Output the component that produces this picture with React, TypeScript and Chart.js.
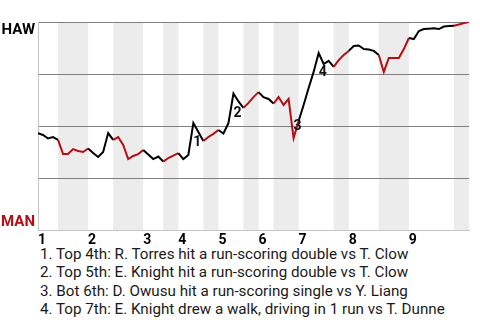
import React, { useEffect, useRef } from "react";
import { Chart, registerables } from "chart.js";

Chart.register(...registerables);

// HAW win probability (%) after each play
const winProb: number[] = [
  46.6, 45.7, 44.0, 44.7, 43.3, 36.5, 36.5, 38.9, 38.0, 37.5,
  39.2, 37.0, 35.1, 37.5, 46.6, 43.3, 44.7, 40.9, 34.1, 35.6,
  36.5, 38.5, 36.3, 34.1, 35.3, 32.9, 34.6, 35.8, 37.0, 34.1,
  36.1, 51.4, 47.1, 42.8, 44.7, 46.2, 48.1, 46.4, 51.4, 65.6,
  61.8, 58.7, 61.1, 63.9, 66.3, 63.9, 63.0, 60.8, 63.9, 60.1,
  63.0, 44.2, 52.4, 60.1, 68.3, 76.0, 85.1, 79.8, 81.3, 78.4,
  81.7, 84.1, 86.1, 88.5, 88.7, 87.0, 86.8, 86.1, 84.1, 76.0,
  82.7, 82.7, 82.7, 87.0, 92.3, 91.8, 95.7, 96.6, 96.8, 97.0,
  96.6, 97.8, 98.1, 98.2, 98.8, 99.5, 100,
];

// play index where each inning (top half) starts
const inningStarts: number[] = [0, 10, 21, 28, 36, 44, 52, 62, 74];
const inningLabels: string[] = ["1", "2", "3", "4", "5", "6", "7", "8", "9"];
// bottom half-innings: [start, end] play index
const bottomStarts: number[] = [4, 15, 25, 33, 41, 47, 59, 68, 83];
const bottomEnds: number[] = [10, 21, 28, 36, 44, 52, 62, 74, 86];

const noteIndices: number[] = [31, 39, 51, 56];
const noteMarks: string[] = ["1", "2", "3", "4"];
const noteTexts: string[] = [
  "1. Top 4th: R. Torres hit a run-scoring double vs T. Clow",
  "2. Top 5th: E. Knight hit a run-scoring double vs T. Clow",
  "3. Bot 6th: D. Owusu hit a run-scoring single vs Y. Liang",
  "4. Top 7th: E. Knight drew a walk, driving in 1 run vs T. Dunne",
];

const topTeam = "HAW";
const bottomTeam = "MAN";

const RED = "#b30d16";
const BLACK = "#000000";
const FONT = "Roboto, 'Noto Sans', sans-serif";

function isBottom(i: number): boolean {
  for (let k = 0; k < bottomStarts.length; k++) {
    if (i >= bottomStarts[k] && i < bottomEnds[k]) return true;
  }
  return false;
}

const bandsPlugin = {
  id: "bands",
  beforeDraw(chart: any) {
    const { ctx, chartArea, scales } = chart;
    const x = scales.x;
    ctx.save();
    ctx.fillStyle = "#ececec";
    for (let k = 0; k < bottomStarts.length; k++) {
      const x0 = x.getPixelForValue(bottomStarts[k]);
      const x1 = x.getPixelForValue(bottomEnds[k]);
      ctx.fillRect(x0, chartArea.top, x1 - x0, chartArea.bottom - chartArea.top);
    }
    ctx.restore();
  },
};

const labelsPlugin = {
  id: "teamLabels",
  afterDraw(chart: any) {
    const { ctx, chartArea, scales } = chart;
    const x = scales.x;
    const y = scales.y;
    ctx.save();
    ctx.font = `bold 15px ${FONT}`;
    ctx.textAlign = "right";
    ctx.textBaseline = "alphabetic";
    ctx.fillStyle = BLACK;
    ctx.fillText(topTeam, chartArea.left - 3, y.getPixelForValue(100) + 12);
    ctx.fillStyle = RED;
    ctx.fillText(bottomTeam, chartArea.left - 3, y.getPixelForValue(0) - 4.5);

    ctx.font = `bold 14px ${FONT}`;
    ctx.textAlign = "left";
    ctx.textBaseline = "middle";
    ctx.fillStyle = "#111";
    for (let k = 0; k < noteIndices.length; k++) {
      const i = noteIndices[k];
      const up = winProb[i] > winProb[i - 1];
      const px = x.getPixelForValue(i);
      const py = y.getPixelForValue(winProb[i]);
      ctx.fillText(noteMarks[k], px, py + (up ? 19.5 : -12));
    }
    ctx.restore();
  },
};

export default function App() {
  const ref = useRef<HTMLCanvasElement | null>(null);
  useEffect(() => {
    if (!ref.current) return;
    const chart = new Chart(ref.current, {
      type: "line",
      data: {
        labels: winProb.map((_, i) => i),
        datasets: [
          {
            data: winProb.map((v, i) => ({ x: i, y: v })),
            borderColor: BLACK,
            borderWidth: 2,
            pointRadius: 0,
            tension: 0,
            fill: false,
            segment: {
              borderColor: (c: any) => (isBottom(c.p0DataIndex) ? RED : BLACK),
            },
          },
        ],
      },
      options: {
        animation: false,
        responsive: true,
        maintainAspectRatio: false,
        layout: { padding: { top: 22, right: 11, left: 0, bottom: 0 } },
        plugins: { legend: { display: false }, tooltip: { enabled: false } },
        scales: {
          x: {
            type: "linear",
            min: 0,
            max: winProb.length - 1,
            grid: { display: false, drawTicks: false },
            border: { display: true, color: "#c4c4c4", width: 1 },
            afterBuildTicks: (s: any) => {
              s.ticks = inningStarts.map((v) => ({ value: v }));
            },
            afterFit: (s: any) => {
              s.height = 15;
            },
            ticks: {
              autoSkip: false,
              maxRotation: 0,
              align: "start",
              padding: 2,
              color: "#000",
              font: { family: FONT, size: 14, weight: "bold" },
              callback: (v: any) => {
                const idx = inningStarts.indexOf(Number(v));
                return idx >= 0 ? inningLabels[idx] : "";
              },
            },
          },
          y: {
            min: 0,
            max: 100,
            ticks: { display: false, stepSize: 25 },
            grid: {
              drawTicks: false,
              color: (c: any) => (c.tick && c.tick.value === 0 ? "rgba(0,0,0,0)" : "#808080"),
              lineWidth: 1,
            },
            border: { display: true, color: "#c4c4c4", width: 1 },
            afterFit: (s: any) => {
              s.width = 38;
            },
          },
        },
      },
      plugins: [bandsPlugin, labelsPlugin],
    });
    return () => chart.destroy();
  }, []);

  return (
    <div style={{ position: "absolute", left: 0, top: 0, width: 480, height: 320 }}>
      <div style={{ position: "absolute", left: 0, top: 0, width: 480, height: 245 }}>
        <canvas ref={ref} />
      </div>
      <div
        style={{
          position: "absolute",
          left: 40,
          top: 245,
          fontFamily: FONT,
          fontSize: 15.2,
          lineHeight: "18.3px",
          color: "#1a1a1a",
          whiteSpace: "nowrap",
        }}
      >
        {noteTexts.map((t, i) => (
          <div key={i}>{t}</div>
        ))}
      </div>
    </div>
  );
}
